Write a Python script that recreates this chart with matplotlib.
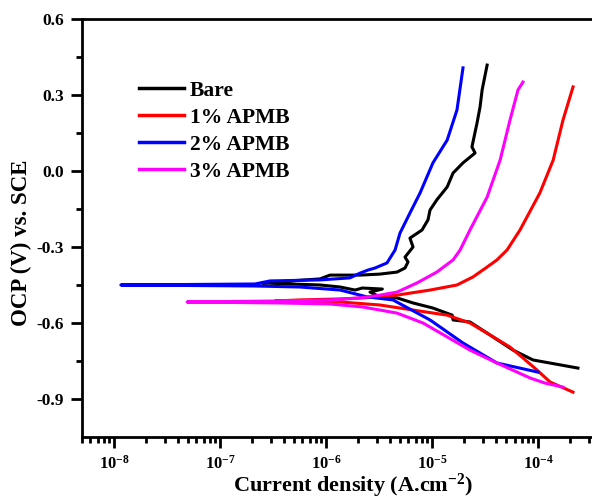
import numpy as np
import matplotlib
matplotlib.use("Agg")
import matplotlib.pyplot as plt
from matplotlib.ticker import FixedLocator, LogLocator, NullFormatter

plt.rcParams['font.family'] = ['Liberation Serif', 'DejaVu Serif']
plt.rcParams['font.weight'] = 'bold'
plt.rcParams['mathtext.fontset'] = 'custom'
plt.rcParams['mathtext.rm'] = 'Liberation Serif:bold'
plt.rcParams['mathtext.bf'] = 'Liberation Serif:bold'
plt.rcParams['mathtext.it'] = 'Liberation Serif:bold'
plt.rcParams['axes.unicode_minus'] = False

# Bare
bare_i = [2.38e-4, 8.97e-5, 5.81e-5, 3.76e-5, 2.28e-5, 1.58e-5, 1.55e-5, 1.02e-5, 6.62e-6,
          4.68e-6, 3.23e-6, 2.60e-6, 3.40e-6, 2.20e-6, 1.88e-6, 1.36e-6, 8.78e-7, 4.57e-7, 2.49e-7,
          4.57e-7, 8.78e-7, 1.09e-6, 2.10e-6, 3.23e-6, 4.68e-6, 5.56e-6, 5.94e-6, 5.56e-6,
          6.62e-6, 6.19e-6, 8.05e-6, 9.16e-6, 9.58e-6, 1.11e-5, 1.39e-5, 1.58e-5, 1.96e-5,
          2.55e-5, 2.38e-5, 2.66e-5, 2.84e-5, 2.97e-5, 3.31e-5]
bare_E = [-0.778, -0.746, -0.707, -0.655, -0.596, -0.588, -0.569, -0.541, -0.521,
          -0.501, -0.497, -0.478, -0.466, -0.462, -0.470, -0.458, -0.450, -0.446, -0.442,
          -0.434, -0.426, -0.411, -0.411, -0.407, -0.399, -0.383, -0.359, -0.340,
          -0.300, -0.265, -0.233, -0.193, -0.154, -0.114, -0.063, -0.008, 0.032,
          0.071, 0.095, 0.190, 0.253, 0.320, 0.418]

# 1% APMB
apmb1_i = [2.14e-4, 1.30e-4, 9.80e-5, 7.21e-5, 5.44e-5, 3.52e-5, 2.28e-5, 1.39e-5, 6.62e-6,
           3.23e-6, 1.36e-6, 4.57e-7, 3.31e-7, 5.69e-7, 1.36e-6, 2.23e-6, 4.68e-6, 9.58e-6,
           1.72e-5, 2.44e-5, 3.31e-5, 4.10e-5, 5.10e-5, 6.76e-5, 1.04e-4, 1.39e-4, 1.72e-4, 2.14e-4]
apmb1_E = [-0.873, -0.833, -0.786, -0.738, -0.695, -0.647, -0.600, -0.569, -0.549,
           -0.529, -0.517, -0.514, -0.513, -0.509, -0.505, -0.501, -0.490, -0.470,
           -0.450, -0.418, -0.379, -0.351, -0.312, -0.233, -0.087, 0.043, 0.201, 0.332]

# 2% APMB
apmb2_i = [1.00e-4, 4.10e-5, 1.96e-5, 9.58e-6, 4.28e-6, 2.44e-6, 1.36e-6, 5.69e-7, 2.14e-7,
           1.16e-8, 2.14e-7, 2.96e-7, 8.78e-7, 1.68e-6, 2.10e-6, 2.49e-6, 2.90e-6, 3.76e-6,
           4.48e-6, 4.99e-6, 6.19e-6, 7.71e-6, 1.02e-5, 1.39e-5, 1.72e-5, 1.96e-5]
apmb2_E = [-0.794, -0.758, -0.679, -0.588, -0.509, -0.497, -0.470, -0.458, -0.454,
           -0.450, -0.446, -0.434, -0.430, -0.422, -0.403, -0.391, -0.383, -0.363,
           -0.312, -0.245, -0.166, -0.087, 0.032, 0.122, 0.241, 0.407]

# 3% APMB
apmb3_i = [1.72e-4, 1.16e-4, 8.41e-5, 4.10e-5, 2.28e-5, 1.39e-5, 8.22e-6, 4.68e-6, 2.23e-6,
           1.09e-6, 3.68e-7, 4.89e-8, 3.68e-7, 1.09e-6, 2.10e-6, 3.23e-6, 4.68e-6, 7.21e-6,
           1.11e-5, 1.58e-5, 1.84e-5, 2.28e-5, 3.31e-5, 4.39e-5, 5.44e-5, 6.47e-5, 7.21e-5]
apmb3_E = [-0.853, -0.837, -0.817, -0.758, -0.707, -0.655, -0.600, -0.561, -0.537,
           -0.525, -0.521, -0.517, -0.513, -0.509, -0.501, -0.490, -0.478, -0.442,
           -0.399, -0.351, -0.312, -0.233, -0.103, 0.043, 0.201, 0.320, 0.351]

labels = ['Bare', '1% APMB', '2% APMB', '3% APMB']
colors = ['black', '#ff0000', '#0000ff', '#ff00ff']
series = [(bare_i, bare_E), (apmb1_i, apmb1_E), (apmb2_i, apmb2_E), (apmb3_i, apmb3_E)]

y_ticks = [-0.9, -0.6, -0.3, 0.0, 0.3, 0.6]
y_ticklabels = ['-0.9', '-0.6', '-0.3', '0.0', '0.3', '0.6']
x_ticks = [1e-8, 1e-7, 1e-6, 1e-5, 1e-4]
x_ticklabels = [r'$10^{-8}$', r'$10^{-7}$', r'$10^{-6}$', r'$10^{-5}$', r'$10^{-4}$']

fig = plt.figure(figsize=(5.92, 4.98), dpi=100)
ax = fig.add_axes([0.1385, 0.1225, 0.8615, 0.8394])

for (xi, yE), lab, c in zip(series, labels, colors):
    ax.plot(xi, yE, color=c, lw=2.2, label=lab)

ax.set_xscale('log')
ax.set_xlim(4.99e-9, 3.23e-4)
ax.set_ylim(-1.05, 0.6)

ax.set_yticks(y_ticks)
ax.set_yticklabels(y_ticklabels)
ax.yaxis.set_minor_locator(FixedLocator([-0.75, -0.45, -0.15, 0.15, 0.45]))
ax.set_xticks(x_ticks)
ax.set_xticklabels(x_ticklabels)
ax.xaxis.set_minor_locator(LogLocator(base=10, subs=np.arange(2, 10), numticks=20))
ax.xaxis.set_minor_formatter(NullFormatter())

ax.tick_params(which='major', direction='out', length=8, width=2)
ax.tick_params(which='minor', direction='out', length=4.5, width=2)
ax.tick_params(axis='y', labelsize=12.5, pad=5)
ax.tick_params(axis='x', labelsize=12, pad=5)
for s in ['left', 'top', 'bottom']:
    ax.spines[s].set_linewidth(2)
ax.spines['right'].set_visible(False)

ax.set_xlabel(r'Current density (A.cm$^{-2}$)', fontsize=16, fontweight='bold',
              va='baseline')
ax.xaxis.set_label_coords(0.532, -0.130)
ax.set_ylabel('OCP (V) vs. SCE', fontsize=16.5, fontweight='bold')
ax.yaxis.set_label_coords(-0.097, 0.464)

leg = ax.legend(loc='upper left', bbox_to_anchor=(0.095, 0.873), frameon=False,
                prop={'size': 15.5, 'weight': 'bold'}, handlelength=2.1,
                handletextpad=0.25, labelspacing=0.32, borderaxespad=0)
for h in leg.get_lines():
    h.set_linewidth(2.5)

fig.savefig('out.png', dpi=100)
